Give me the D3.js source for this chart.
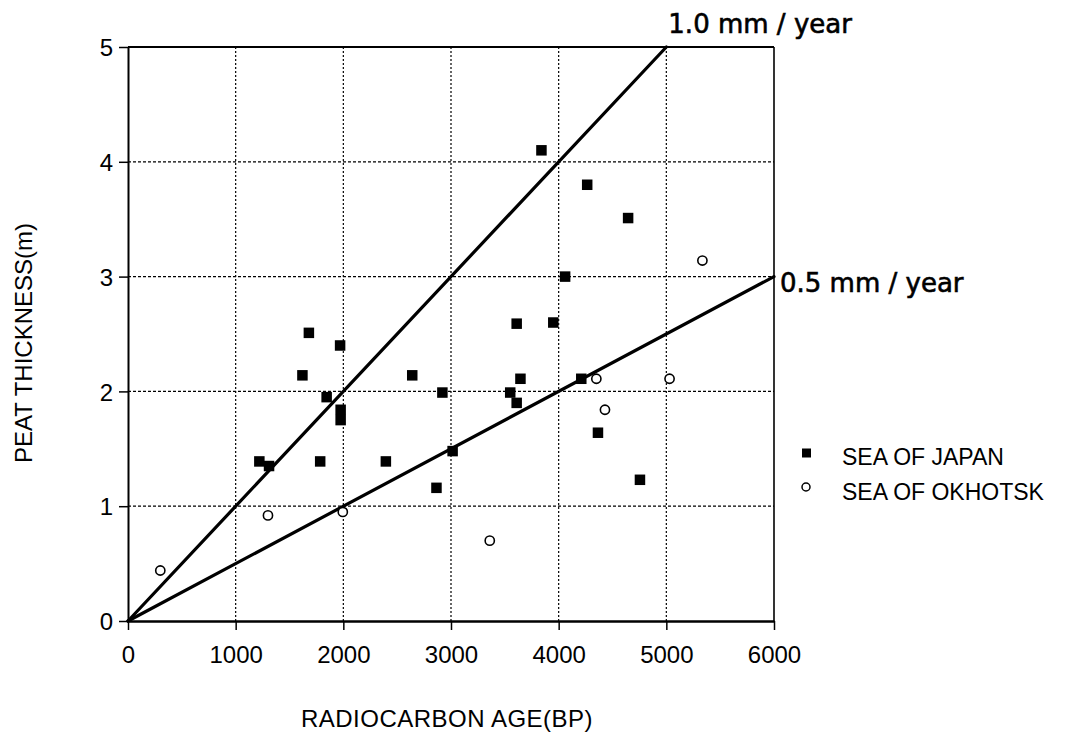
<!DOCTYPE html>
<html>
<head>
<meta charset="utf-8">
<script src="https://cdn.jsdelivr.net/npm/d3@7"></script>
<style>
  body { margin: 0; background: #fff; }
  svg { display: block; }
</style>
</head>
<body>
<div id="chart"></div>
<script>
// données
var japanAge   = [1220, 1310, 1620, 1680, 1845, 1785, 1970, 1975, 1975, 2395, 2640, 2865, 2920, 3015, 3550, 3610, 3645, 3610, 3950, 4060, 3840, 4265, 4645, 4210, 4365, 4755];
var japanThick = [1.39, 1.35, 2.14, 2.51, 1.95, 1.39, 2.40, 1.84, 1.75, 1.39, 2.14, 1.16, 1.99, 1.48, 1.99, 1.90, 2.11, 2.59, 2.60, 3.00, 4.10, 3.80, 3.51, 2.11, 1.64, 1.23];
var okhotskAge   = [300, 1300, 1995, 3360, 4350, 4430, 5030, 5335];
var okhotskThick = [0.44, 0.92, 0.95, 0.70, 2.11, 1.84, 2.11, 3.14];

var xTicks = [0, 1000, 2000, 3000, 4000, 5000, 6000];
var yTicks = [0, 1, 2, 3, 4, 5];

// droites de vitesse d'accumulation : thickness (m) = rate (mm/an) * age / 1000
var rateValues = [1.0, 0.5];
var rateEndAge = [5000, 6000];
var rateLabels = ["1.0 mm / year", "0.5 mm / year"];

var legendLabels = ["SEA OF JAPAN", "SEA OF OKHOTSK"];

var width = 1079, height = 733;
var svg = d3.select("#chart").append("svg")
  .attr("width", width)
  .attr("height", height);

var x = d3.scaleLinear().domain([0, 6000]).range([128, 774]);
var y = d3.scaleLinear().domain([0, 5]).range([621, 47]);

var fontTick = "'Liberation Sans', Arial, Helvetica, sans-serif";
var fontRate = "'DejaVu Sans', 'Noto Sans', sans-serif";

// grille pointillée
svg.append("g").selectAll("line")
  .data(xTicks.slice(1, -1))
  .enter().append("line")
    .attr("x1", d => x(d)).attr("x2", d => x(d))
    .attr("y1", y(5)).attr("y2", y(0))
    .attr("stroke", "#000")
    .attr("stroke-width", 1.2)
    .attr("stroke-dasharray", "2,2");
svg.append("g").selectAll("line")
  .data(yTicks.slice(1, -1))
  .enter().append("line")
    .attr("x1", x(0)).attr("x2", x(6000))
    .attr("y1", d => y(d)).attr("y2", d => y(d))
    .attr("stroke", "#000")
    .attr("stroke-width", 1.2)
    .attr("stroke-dasharray", "3,2");

// cadre haut et droite
svg.append("line")
  .attr("x1", x(0)).attr("x2", x(6000))
  .attr("y1", y(5)).attr("y2", y(5))
  .attr("stroke", "#000").attr("stroke-width", 2);
svg.append("line")
  .attr("x1", x(6000)).attr("x2", x(6000))
  .attr("y1", y(5)).attr("y2", y(0))
  .attr("stroke", "#000").attr("stroke-width", 1.6);

// axes
var xAxis = svg.append("g")
  .attr("transform", "translate(0," + y(0) + ")")
  .call(d3.axisBottom(x).tickValues(xTicks).tickSize(9).tickSizeOuter(0).tickPadding(16).tickFormat(d3.format("d")));
var yAxis = svg.append("g")
  .attr("transform", "translate(" + x(0) + ",0)")
  .call(d3.axisLeft(y).tickValues(yTicks).tickSize(9).tickSizeOuter(0).tickPadding(6).tickFormat(d3.format("d")));

xAxis.select(".domain").attr("stroke-width", 2.5);
yAxis.select(".domain").attr("stroke-width", 2);
svg.selectAll(".tick line").attr("stroke-width", 1.5);
svg.selectAll(".tick text")
  .attr("font-family", fontTick)
  .attr("font-size", "24px")
  .attr("fill", "#000");
yAxis.selectAll(".tick text").attr("dy", "0.36em");

// titres des axes
svg.append("text")
  .attr("x", 447).attr("y", 727)
  .attr("text-anchor", "middle")
  .attr("font-family", fontTick)
  .attr("font-size", "24px")
  .attr("letter-spacing", "0.5px")
  .text("RADIOCARBON AGE(BP)");
svg.append("text")
  .attr("transform", "translate(32,343) rotate(-90)")
  .attr("text-anchor", "middle")
  .attr("font-family", fontTick)
  .attr("font-size", "24px")
  .text("PEAT THICKNESS(m)");

// droites 1.0 et 0.5 mm/an
rateValues.forEach(function (r, i) {
  var endAge = rateEndAge[i];
  svg.append("line")
    .attr("x1", x(0)).attr("y1", y(0))
    .attr("x2", x(endAge)).attr("y2", y(r * endAge / 1000))
    .attr("stroke", "#000")
    .attr("stroke-width", 3.2)
    .attr("stroke-linecap", "round");
});
svg.append("text")
  .attr("x", x(rateEndAge[0]) + 2)
  .attr("y", y(rateValues[0] * rateEndAge[0] / 1000) - 14)
  .attr("font-family", fontRate)
  .attr("font-size", "26px")
  .attr("stroke", "#000").attr("stroke-width", 0.6)
  .text(rateLabels[0]);
svg.append("text")
  .attr("x", x(rateEndAge[1]) + 6)
  .attr("y", y(rateValues[1] * rateEndAge[1] / 1000) + 15)
  .attr("font-family", fontRate)
  .attr("font-size", "26px")
  .attr("stroke", "#000").attr("stroke-width", 0.6)
  .text(rateLabels[1]);

// points
var sq = 10.5;
svg.append("g").selectAll("rect")
  .data(japanAge)
  .enter().append("rect")
    .attr("x", (d, i) => x(d) - sq / 2)
    .attr("y", (d, i) => y(japanThick[i]) - sq / 2)
    .attr("width", sq).attr("height", sq)
    .attr("fill", "#000");
svg.append("g").selectAll("circle")
  .data(okhotskAge)
  .enter().append("circle")
    .attr("cx", (d, i) => x(d))
    .attr("cy", (d, i) => y(okhotskThick[i]))
    .attr("r", 4.6)
    .attr("fill", "#fff")
    .attr("stroke", "#000")
    .attr("stroke-width", 1.6);

// légende
var legend = svg.append("g");
legend.append("rect")
  .attr("x", 802).attr("y", 448.5)
  .attr("width", 9).attr("height", 9)
  .attr("fill", "#000");
legend.append("circle")
  .attr("cx", 806).attr("cy", 487)
  .attr("r", 4)
  .attr("fill", "#fff")
  .attr("stroke", "#000")
  .attr("stroke-width", 1.5);
legend.selectAll("text")
  .data(legendLabels)
  .enter().append("text")
    .attr("x", 842)
    .attr("y", (d, i) => 465 + i * 35)
    .attr("font-family", fontTick)
    .attr("font-size", "23px")
    .text(d => d);
</script>
</body>
</html>
